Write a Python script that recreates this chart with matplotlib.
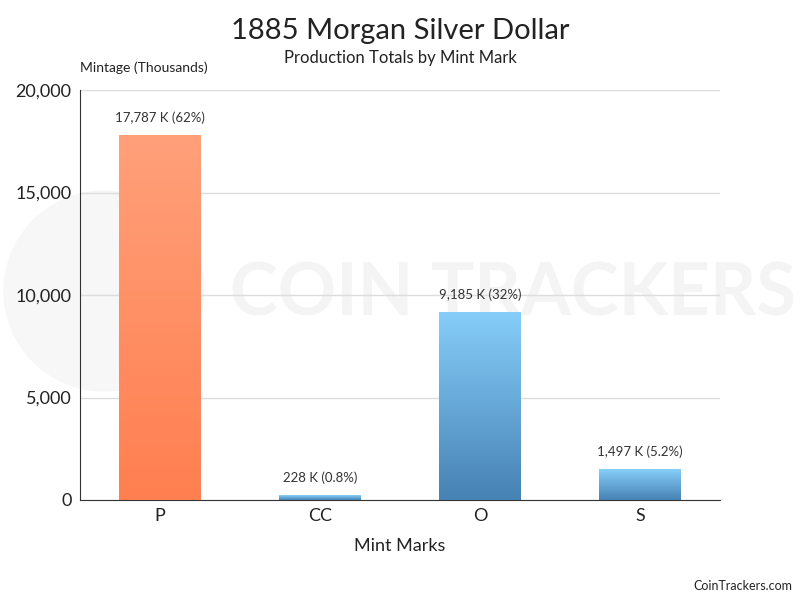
import matplotlib
matplotlib.use("Agg")
import matplotlib.pyplot as plt
import numpy as np
from matplotlib.colors import LinearSegmentedColormap
from matplotlib.patches import Ellipse

plt.rcParams['font.family'] = ['Lato', 'DejaVu Sans']

categories = ["P", "CC", "O", "S"]
values = [17787, 228, 9185, 1497]
labels = ["17,787 K (62%)", "228 K (0.8%)", "9,185 K (32%)", "1,497 K (5.2%)"]
yticks = [0, 5000, 10000, 15000, 20000]
ytick_labels = ["0", "5,000", "10,000", "15,000", "20,000"]

orange = LinearSegmentedColormap.from_list("o", ["#FF7F50", "#FFA07A"])
blue = LinearSegmentedColormap.from_list("b", ["#4682B4", "#87CEFA"])
cmaps = [orange, blue, blue, blue]

fig = plt.figure(figsize=(8, 6), dpi=100)

# watermark (behind everything)
fig.text(0.995, 0.508, "COIN TRACKERS", fontsize=52, fontweight='bold', color='#f4f4f4',
         ha='right', va='center', zorder=-2)
circ = Ellipse((0.13, 0.515), 0.25, 0.333, transform=fig.transFigure, color='#f7f7f7', zorder=-3)
fig.patches.append(circ)

ax = fig.add_axes([0.1, 1 - 500 / 600, 0.8, (500 - 90) / 600])
ax.set_zorder(1)
ax.set_facecolor('none')

x = np.arange(len(categories))
bars = ax.bar(x, values, width=0.51, color='none', zorder=3)
grad = np.linspace(0, 1, 256).reshape(-1, 1)
for b, cm in zip(bars, cmaps):
    x0, y0 = b.get_x(), b.get_y()
    w, h = b.get_width(), b.get_height()
    im = ax.imshow(grad, extent=[x0, x0 + w, y0, y0 + h], origin='lower', cmap=cm,
                   aspect='auto', zorder=3)
    im.set_clip_path(b)
for xi, v, lab in zip(x, values, labels):
    ax.annotate(lab, (xi, v), xytext=(0, 8), textcoords='offset points', ha='center',
                va='bottom', fontsize=9.5, color='#333333')

ax.set_xlim(-0.5, len(categories) - 0.5)
ax.set_ylim(0, 20000)
ax.set_yticks(yticks)
ax.set_yticklabels(ytick_labels, fontsize=13, color='#222222')
ax.set_xticks(x)
ax.set_xticklabels(categories, fontsize=13, color='#222222')
ax.tick_params(axis='both', length=0, pad=6)
ax.grid(axis='y', color='#dddddd', linewidth=1, zorder=0)
ax.set_axisbelow(True)
for s in ['top', 'right']:
    ax.spines[s].set_visible(False)
ax.spines['left'].set_color('#333333')
ax.spines['bottom'].set_color('#333333')
ax.set_xlabel("Mint Marks", fontsize=13, color='#222222', labelpad=10)

fig.text(0.5, 0.948, "1885 Morgan Silver Dollar", ha='center', va='center', fontsize=21, color='#222222')
fig.text(0.5, 0.903, "Production Totals by Mint Mark", ha='center', va='center', fontsize=12, color='#222222')
fig.text(0.1, 0.887, "Mintage (Thousands)", ha='left', va='center', fontsize=10, color='#222222')
fig.text(0.99, 0.023, "CoinTrackers.com", ha='right', va='center', fontsize=9, color='#222222')

fig.savefig("out.png", dpi=100)
